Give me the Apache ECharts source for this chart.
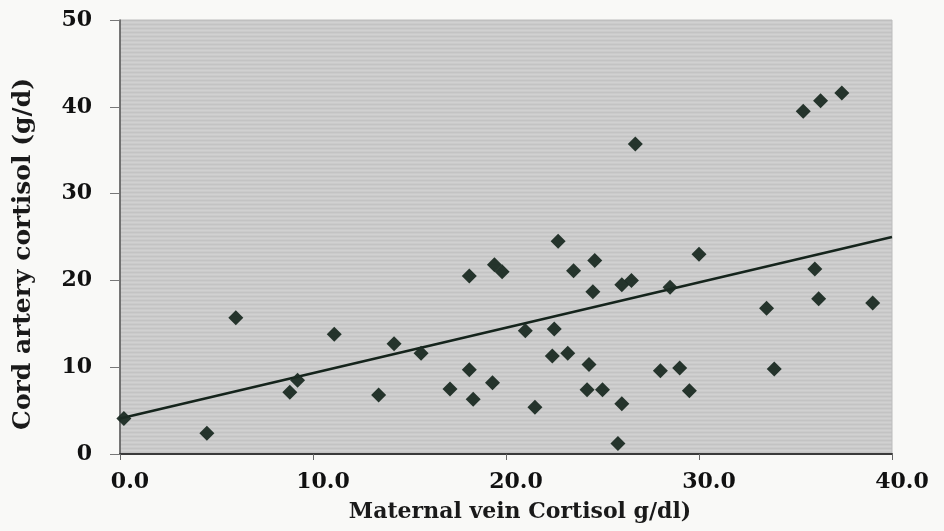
<!DOCTYPE html>
<html>
<head>
<meta charset="utf-8">
<script src="https://cdn.jsdelivr.net/npm/echarts@6/dist/echarts.min.js"></script>
<style>
html,body{margin:0;padding:0;background:#f9f9f7;}
#chart{width:944px;height:531px;}
</style>
</head>
<body>
<div id="chart"></div>
<script>
// Data
var maternalVein = [0.2, 4.5, 6.0, 8.8, 9.2, 11.1, 13.4, 14.2, 15.6, 17.1, 18.1, 18.1, 18.3, 19.3, 19.4, 19.8, 21.0, 21.5, 22.4, 22.5, 22.7, 23.2, 23.5, 24.2, 24.3, 24.5, 24.6, 25.0, 25.8, 26.0, 26.0, 26.5, 26.7, 28.0, 28.5, 29.0, 29.5, 30.0, 33.5, 33.9, 35.4, 36.0, 36.2, 36.3, 37.4, 39.0];
var cordArtery   = [4.1, 2.4, 15.7, 7.1, 8.5, 13.8, 6.8, 12.7, 11.6, 7.5, 9.7, 20.5, 6.3, 8.2, 21.8, 21.0, 14.2, 5.4, 11.3, 14.4, 24.5, 11.6, 21.1, 7.4, 10.3, 18.7, 22.3, 7.4, 1.2, 5.8, 19.5, 20.0, 35.7, 9.6, 19.2, 9.9, 7.3, 23.0, 16.8, 9.8, 39.5, 21.3, 17.9, 40.7, 41.6, 17.4];
var fitLineX = [0, 40];
var fitLineY = [4.1, 25.0];
var xTicks = [0, 10, 20, 30, 40];
var yTicks = [0, 10, 20, 30, 40, 50];

var points = maternalVein.map(function (x, i) { return [x, cordArtery[i]]; });
var fit = fitLineX.map(function (x, i) { return [x, fitLineY[i]]; });

// faintly striped gray background pattern for the plot area
var pc = document.createElement('canvas');
pc.width = 8; pc.height = 4;
var g = pc.getContext('2d');
g.fillStyle = '#cbcbcb'; g.fillRect(0, 0, 8, 4);
g.fillStyle = '#c3c3c3'; g.fillRect(0, 0, 8, 1);
g.fillStyle = '#d1d1d1'; g.fillRect(0, 2, 8, 1);

var chart = echarts.init(document.getElementById('chart'));
var serif = '"DejaVu Serif", serif';
chart.setOption({
  backgroundColor: '#f9f9f7',
  animation: false,
  grid: {
    left: 120, right: 52, top: 20, bottom: 77,
    show: true,
    backgroundColor: { image: pc, repeat: 'repeat' },
    borderColor: '#bcbcbc', borderWidth: 1
  },
  xAxis: {
    type: 'value', min: 0, max: 40, interval: 10,
    name: 'Maternal vein Cortisol g/dl)',
    nameLocation: 'middle', nameGap: 47,
    nameTextStyle: { fontFamily: serif, fontWeight: 'bold', fontSize: 22, color: '#1a1a1a', padding: [0, 0, 0, 28] },
    axisLine: { show: true, lineStyle: { color: '#3a3a3a', width: 2 } },
    axisTick: { show: true, inside: false, length: 6, lineStyle: { color: '#666' } },
    splitLine: { show: false },
    axisLabel: {
      fontFamily: serif, fontWeight: 'bold', fontSize: 22, color: '#111', margin: 17,
      padding: [0, 0, 0, 20],
      formatter: function (v) { return v.toFixed(1); }
    }
  },
  yAxis: {
    type: 'value', min: 0, max: 50, interval: 10,
    name: 'Cord artery cortisol (g/d)',
    nameLocation: 'middle', nameGap: 84,
    nameTextStyle: { fontFamily: serif, fontWeight: 'bold', fontSize: 25, color: '#1a1a1a', padding: [0, 34, 0, 0] },
    axisLine: { show: true, lineStyle: { color: '#555', width: 1.5 } },
    axisTick: { show: true, inside: false, length: 10, lineStyle: { color: '#777' } },
    splitLine: { show: false },
    axisLabel: { fontFamily: serif, fontWeight: 'bold', fontSize: 22, color: '#111', margin: 28 }
  },
  series: [
    {
      type: 'line', data: fit, symbol: 'none', silent: true,
      lineStyle: { color: '#15241c', width: 2.5 }, z: 2
    },
    {
      type: 'scatter', data: points, symbol: 'diamond', symbolSize: 15,
      itemStyle: { color: '#1b2b23', opacity: 0.95 }, z: 3
    }
  ]
});
</script>
</body>
</html>
